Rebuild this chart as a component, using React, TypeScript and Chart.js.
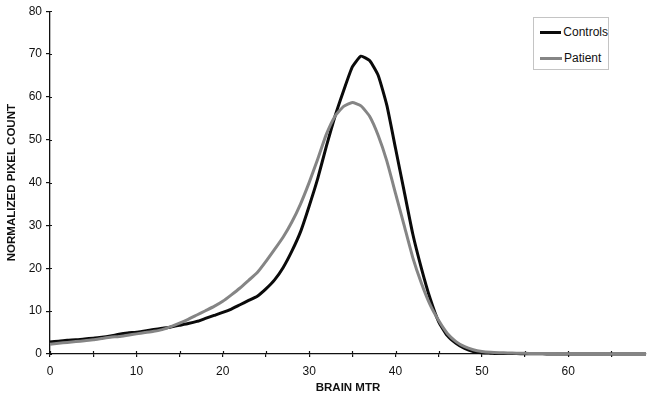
import { useEffect, useRef } from "react";
import { Chart, registerables } from "chart.js";

Chart.register(...registerables);

const mtr = [
  0, 1, 2, 3, 4, 5, 6, 7, 8, 9, 10, 11, 12, 13, 14, 15, 16, 17, 18, 19,
  20, 21, 22, 23, 24, 25, 26, 27, 28, 29, 30, 31, 32, 33, 34, 35, 36, 37, 38, 39,
  40, 41, 42, 43, 44, 45, 46, 47, 48, 49, 50, 51, 52, 53, 54, 55, 56, 57, 58, 59,
  60, 61, 62, 63, 64, 65, 66, 67, 68, 69,
];

const controls = [
  2.8, 3.0, 3.2, 3.3, 3.5, 3.7, 3.9, 4.2, 4.6, 4.9,
  5.1, 5.4, 5.7, 6.0, 6.3, 6.7, 7.1, 7.6, 8.3, 9.0,
  9.7, 10.5, 11.5, 12.5, 13.5, 15.2, 17.3, 20.2, 24.0, 28.5,
  34.5, 41.0, 48.5, 55.5, 61.5, 67.0, 69.5, 68.5, 65.0, 58.0,
  48.0, 38.0, 28.0, 20.0, 13.0, 7.5, 4.3, 2.5, 1.3, 0.6,
  0.3, 0.2, 0.1, 0.1, 0.1, 0.05, 0.05, 0.05, 0.0, 0.0,
  0.0, 0.0, 0.0, 0.0, 0.0, 0.0, 0.0, 0.0, 0.0, 0.0,
];

const patient = [
  2.3, 2.5, 2.7, 2.9, 3.1, 3.3, 3.6, 3.9, 4.1, 4.4,
  4.7, 5.0, 5.3, 5.7, 6.4, 7.2, 8.1, 9.1, 10.1, 11.1,
  12.3, 13.8, 15.4, 17.2, 19.0, 21.6, 24.4, 27.3, 30.8, 35.0,
  40.0, 45.5, 51.3, 55.5, 57.8, 58.7, 57.9, 55.5, 51.0, 45.0,
  37.5, 30.0, 22.5, 16.5, 11.5, 7.8, 4.8, 2.9, 1.7, 1.0,
  0.6, 0.4, 0.3, 0.25, 0.2, 0.15, 0.12, 0.1, 0.1, 0.08,
  0.06, 0.05, 0.05, 0.04, 0.03, 0.02, 0.02, 0.01, 0.0, 0.0,
];

const seriesNames = ["Controls", "Patient"];
const seriesColors = ["#0a0a0a", "#858585"];
const xTitle = "BRAIN MTR";
const yTitle = "NORMALIZED PIXEL COUNT";

const FONT = "'Liberation Sans', Arial, sans-serif";

const crossTicks = {
  id: "crossTicks",
  beforeDatasetsDraw(chart: any) {
    const { ctx, scales } = chart;
    const x = scales.x;
    const y = scales.y;
    ctx.save();
    ctx.strokeStyle = "#111";
    ctx.lineWidth = 1.2;
    x.ticks.forEach((t: any) => {
      const px = Math.round(x.getPixelForValue(t.value)) + 0.5;
      ctx.beginPath();
      ctx.moveTo(px, x.top - 3);
      ctx.lineTo(px, x.top);
      ctx.stroke();
    });
    y.ticks.forEach((t: any) => {
      const py = Math.round(y.getPixelForValue(t.value)) + 0.5;
      ctx.beginPath();
      ctx.moveTo(y.right, py);
      ctx.lineTo(y.right + 2, py);
      ctx.stroke();
    });
    ctx.restore();
  },
};

export default function App() {
  const canvasRef = useRef<HTMLCanvasElement | null>(null);

  useEffect(() => {
    document.body.style.margin = "0";
    const canvas = canvasRef.current;
    if (!canvas) return;
    const chart = new Chart(canvas, {
      type: "line",
      data: {
        datasets: [
          {
            label: seriesNames[0],
            data: mtr.map((v, i) => ({ x: v, y: controls[i] })),
            borderColor: seriesColors[0],
            borderWidth: 3,
            pointRadius: 0,
            tension: 0.15,
            fill: false,
            clip: 6,
          },
          {
            label: seriesNames[1],
            data: mtr.map((v, i) => ({ x: v, y: patient[i] })),
            borderColor: seriesColors[1],
            borderWidth: 3,
            pointRadius: 0,
            tension: 0.15,
            fill: false,
            clip: 6,
            order: -1,
          },
        ],
      },
      options: {
        responsive: false,
        animation: false,
        devicePixelRatio: 1,
        layout: { padding: { top: 7.5, right: 4, left: 0, bottom: 0 } },
        plugins: {
          legend: { display: false },
          tooltip: { enabled: false },
        },
        scales: {
          x: {
            type: "linear",
            min: 0,
            max: 69,
            afterFit: (s: any) => {
              s.height = 44;
            },
            border: { display: true, color: "#111", width: 1.3 },
            grid: {
              display: true,
              drawOnChartArea: false,
              drawTicks: true,
              tickLength: 3,
              color: "#111",
              lineWidth: 1.2,
            },
            ticks: {
              stepSize: 5,
              autoSkip: false,
              includeBounds: false,
              maxRotation: 0,
              padding: 7,
              color: "#111",
              font: { family: FONT, size: 12 },
              callback: (v: any) => (Number(v) % 10 === 0 ? String(v) : ""),
            },
            title: {
              display: true,
              text: xTitle,
              color: "#111",
              font: { family: FONT, size: 11.5, weight: "bold" },
              padding: { top: 0, bottom: 3.5 },
            },
          },
          y: {
            min: 0,
            max: 80,
            afterFit: (s: any) => {
              s.width = 50;
            },
            border: { display: true, color: "#111", width: 1.3 },
            grid: {
              display: true,
              drawOnChartArea: false,
              drawTicks: true,
              tickLength: 4,
              color: "#111",
              lineWidth: 1.2,
            },
            ticks: {
              stepSize: 10,
              padding: 4,
              color: "#111",
              font: { family: FONT, size: 12 },
            },
            title: {
              display: true,
              text: yTitle,
              color: "#111",
              font: { family: FONT, size: 11.5, weight: "bold" },
              padding: { top: 5, bottom: 0 },
            },
          },
        },
      },
      plugins: [crossTicks],
    } as any);
    return () => chart.destroy();
  }, []);

  const legendRow = (name: string, color: string) => (
    <div style={{ display: "flex", alignItems: "center", height: 26 }}>
      <div style={{ width: 22, height: 3, background: color, marginRight: 2 }} />
      <span style={{ fontFamily: FONT, fontSize: 12, color: "#111" }}>{name}</span>
    </div>
  );

  return (
    <div style={{ position: "relative", width: 650, height: 398, background: "#fff" }}>
      <canvas ref={canvasRef} width={650} height={398} style={{ display: "block" }} />
      <div
        style={{
          position: "absolute",
          left: 533,
          top: 17,
          width: 76,
          height: 53,
          border: "1px solid #c4c4c4",
          boxSizing: "border-box",
          padding: "1px 0 0 6px",
          background: "#fff",
        }}
      >
        {legendRow(seriesNames[0], seriesColors[0])}
        {legendRow(seriesNames[1], seriesColors[1])}
      </div>
    </div>
  );
}
